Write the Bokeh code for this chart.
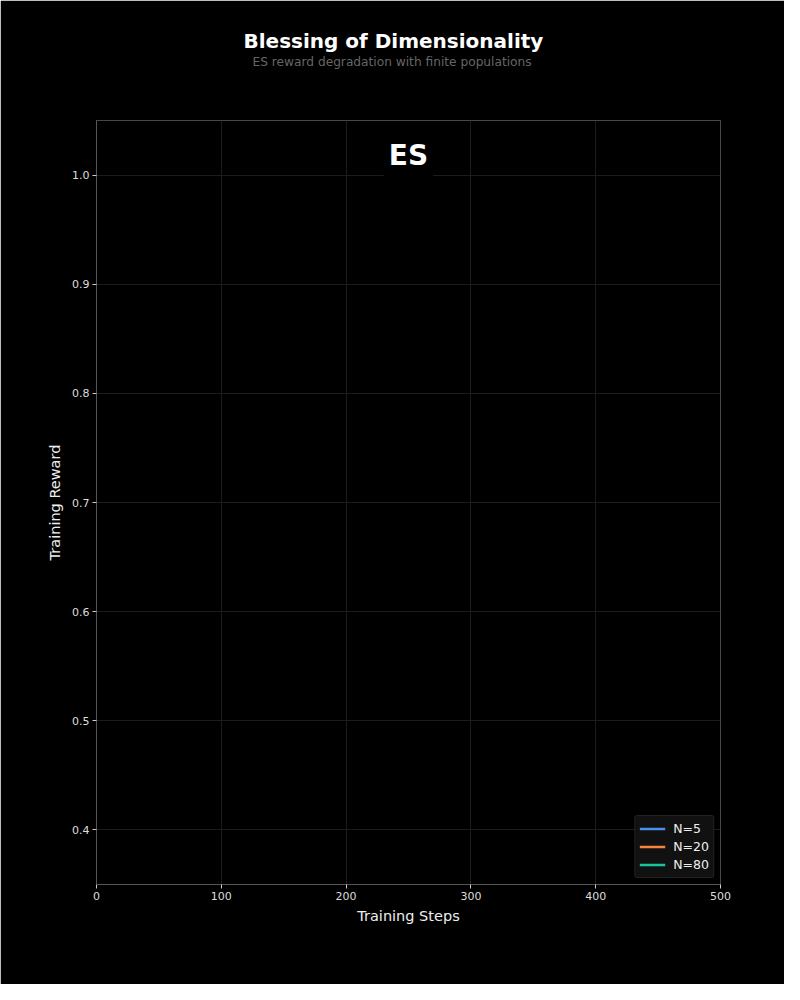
from bokeh.plotting import figure
from bokeh.models import Label, Range1d, Legend, LegendItem, FixedTicker, Title, PrintfTickFormatter
from bokeh.embed import file_html
from bokeh.resources import INLINE

# Data: the reference frame shows no curve points yet (series not drawn)
steps = [0]
reward_n5 = [float("nan")]
reward_n20 = [float("nan")]
reward_n80 = [float("nan")]
series_names = ["N=5", "N=20", "N=80"]
series_colors = ["#4a8fe8", "#f5843f", "#19c59a"]
x_ticks = [0, 100, 200, 300, 400, 500]
y_ticks = [0.4, 0.5, 0.6, 0.7, 0.8, 0.9, 1.0]

FONT = "DejaVu Sans"

p = figure(width=784, height=984, output_backend="svg", toolbar_location=None,
           x_range=Range1d(0, 500), y_range=Range1d(0.35, 1.05),
           min_border_left=96, min_border_right=64, min_border_top=120,
           min_border_bottom=100, title=None)

p.background_fill_color = "#000000"
p.border_fill_color = "#000000"
p.outline_line_color = "#484848"
p.outline_line_width = 1

for ax in (p.xaxis[0], p.yaxis[0]):
    ax.axis_line_color = "#555555"
    ax.major_tick_line_color = "#cccccc"
    ax.major_tick_out = 4
    ax.major_tick_in = 0
    ax.minor_tick_line_color = None
    ax.major_label_standoff = 3
    ax.major_label_text_color = "#dddddd"
    ax.major_label_text_font = FONT
    ax.major_label_text_font_size = "11px"
    ax.axis_label_text_color = "#eeeeee"
    ax.axis_label_text_font = FONT
    ax.axis_label_text_font_size = "14.5px"
    ax.axis_label_text_font_style = "normal"

p.xaxis[0].ticker = FixedTicker(ticks=x_ticks)
p.yaxis[0].ticker = FixedTicker(ticks=y_ticks)
p.yaxis[0].formatter = PrintfTickFormatter(format="%.1f")
p.xaxis[0].axis_label = "Training Steps"
p.yaxis[0].axis_label = "Training Reward"
p.yaxis[0].axis_label_standoff = 6
p.xaxis[0].axis_label_standoff = 5

p.xgrid.grid_line_color = "#1c1c1c"
p.ygrid.grid_line_color = "#1c1c1c"
p.xgrid.ticker = FixedTicker(ticks=x_ticks)
p.ygrid.ticker = FixedTicker(ticks=y_ticks)

series = [reward_n5, reward_n20, reward_n80]
items = []
for name, color, vals in zip(series_names, series_colors, series):
    r = p.line(steps, vals, line_color=color, line_width=2.5)
    items.append(LegendItem(label=name, renderers=[r]))

legend = Legend(items=items, location="bottom_right")
legend.background_fill_color = "#111111"
legend.background_fill_alpha = 1.0
legend.border_line_color = "#333333"
legend.border_radius = 3
legend.label_text_color = "#eeeeee"
legend.label_text_font = FONT
legend.label_text_font_size = "12.5px"
legend.label_standoff = 8
legend.glyph_width = 26
legend.glyph_height = 17
legend.label_height = 17
legend.spacing = 1
legend.padding = 4
legend.margin = 6
p.add_layout(legend)

es = Label(x=250, y=1.018, text="ES", text_align="center", text_baseline="middle",
           text_color="#ffffff", text_font=FONT, text_font_size="28px",
           text_font_style="bold", background_fill_color="#000000",
           background_fill_alpha=1.0, padding=5)
p.add_layout(es)

# spacer between the subtitle and the plot frame
spacer = Title(text=" ", text_font_size="1px", text_color="#000000", standoff=49)
sub = Title(text="ES reward degradation with finite populations", align="left",
            offset=156, text_color="#666666", text_font=FONT, text_font_size="12.2px",
            text_font_style="normal", standoff=0)
main = Title(text="Blessing of Dimensionality", align="left", offset=147,
             text_color="#ffffff", text_font=FONT, text_font_size="20px",
             text_font_style="bold", standoff=0)
p.add_layout(spacer, "above")
p.add_layout(sub, "above")
p.add_layout(main, "above")

open("out.html", "w").write(file_html(p, INLINE))
